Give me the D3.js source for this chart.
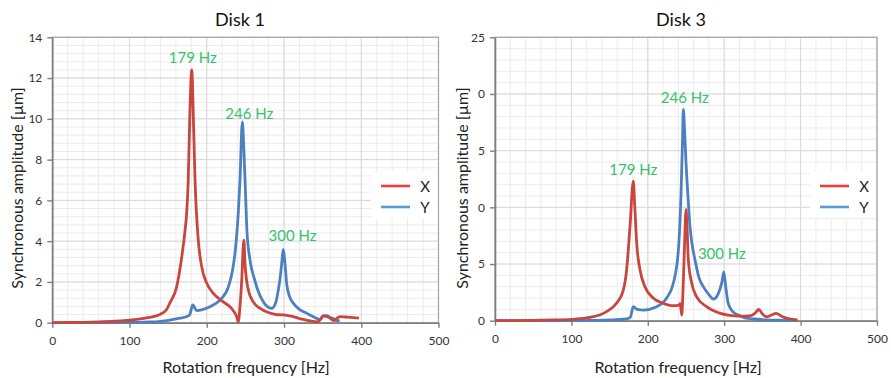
<!DOCTYPE html>
<html><head><meta charset="utf-8">
<script src="https://cdn.jsdelivr.net/npm/d3@7"></script>
<style>
body{margin:0;background:#fff;}
svg{display:block;font-family:Lato,"Open Sans",sans-serif;}
</style></head>
<body>
<svg id="c" width="891" height="378"></svg>
<script>
// ---------- data ----------
const xTicks = [0, 100, 200, 300, 400, 500];

// Disk 1
const d1YTicks = [0, 2, 4, 6, 8, 10, 12, 14];
const d1YTickLabels = ["0", "2", "4", "6", "8", "10", "12", "14"];
const d1XFreq = [0,20,40,60,80,100,120,140,148,152,161,167.5,171.8,174,176,178,180.5,183,184.8,189,193.4,200,208.5,221,232,238.7,240.8,243,245,248,249.5,253.8,260,269,280,290,299,305,312,320,330,340,343,347,351,356,360,364,368,372,380,390,397];
const d1XVal  = [0,0.01,0.02,0.04,0.07,0.12,0.22,0.42,0.65,0.95,1.76,3.2,4.5,5.4,7.0,10.1,12.4,9.5,7.0,4.05,2.75,1.93,1.44,1.03,0.7,0.3,0.05,0.8,1.9,4.05,2.9,1.6,1.03,0.7,0.5,0.4,0.38,0.35,0.3,0.2,0.12,0.05,0.04,0.15,0.33,0.3,0.22,0.1,0.2,0.3,0.28,0.25,0.22];
const d1YFreq = [0,50,100,120,140,152,165,174,178,181.8,187,195,204,217,228,233,236.5,240.8,243,246,248,250,252,256,262,266,272,278,284,289,292.6,295,297,299,301,303.5,307,312,320,329,342,346,351,356,360,364,368,372];
const d1YVal  = [0,0,0.01,0.03,0.07,0.13,0.22,0.3,0.4,0.87,0.59,0.65,0.78,1.11,1.76,2.5,3.4,5.4,7.0,9.85,8.5,6.5,4.5,3.07,2.1,1.6,1.1,0.8,0.7,0.95,1.6,2.2,2.9,3.6,3.0,1.9,1.3,0.96,0.65,0.47,0.22,0.15,0.35,0.33,0.25,0.2,0.1,0.1];

// Disk 3
const d3YTicks = [0, 5, 10, 15, 20, 25];
const d3YTickLabels = ["0", "5", "0", "5", "0", "25"];
const d3XFreq = [0,20,40,60,80,100,120,137,146,159,168,172.3,176.7,181,183,185.5,189.8,196.3,207,220,233,240,242.5,244.4,246,248,250,251.5,253,257.5,264,277,284,295,305,320,335,341,345,350,355,362,368,375,383,390,396];
const d3XVal  = [0,0.01,0.02,0.04,0.07,0.12,0.25,0.5,0.8,1.54,2.7,4.5,8.3,12.3,10,6.8,4.5,3.0,2.0,1.54,1.32,1.35,1.5,0.5,2.5,6.5,9.8,8,5.4,3.3,2.1,1.24,0.95,0.65,0.5,0.4,0.45,0.7,1.0,0.6,0.35,0.5,0.65,0.4,0.2,0.12,0.08];
const d3YFreq = [0,50,100,130,150,171,177,181,186,194,211.6,224.7,233.4,240,243.5,245.5,246.5,248,250,253,255.2,258.5,261.8,267,272.6,280,286,290,293,297,299.5,302,305,310,314,320,327,340,350,370,395];
const d3YVal  = [0,0,0.01,0.03,0.06,0.15,0.3,1.24,1.0,0.94,1.24,2.0,3.3,6.2,11.2,16,18.65,17,14,10.5,8.3,6.5,5.36,3.8,3.0,2.3,1.9,2.1,2.5,3.4,4.3,3,1.6,0.9,0.65,0.45,0.25,0.15,0.1,0.05,0.02];

const seriesNames = ["X", "Y"];
const peakLabels = ["179 Hz", "246 Hz", "300 Hz"];

// ---------- drawing ----------
const svg = d3.select("#c");
const RED = "#c9463f", BLUE = "#4d80c0", GREEN = "#35c26a";

function panel(cfg) {
  const g = svg.append("g");
  const x = d3.scaleLinear().domain([0, 500]).range([cfg.x0, cfg.x1]);
  const y = d3.scaleLinear().domain([0, cfg.yMax]).range([cfg.y0, cfg.y1]);

  // minor grid
  const xMinor = d3.range(0, 501, 20);
  const yMinor = d3.range(0, cfg.yMax + 1e-9, cfg.yMinor);
  g.append("g").selectAll("line").data(xMinor).join("line")
    .attr("x1", d => x(d)).attr("x2", d => x(d)).attr("y1", y(0)).attr("y2", y(cfg.yMax))
    .attr("stroke", "#ececec").attr("stroke-width", 1);
  g.append("g").selectAll("line").data(yMinor).join("line")
    .attr("y1", d => y(d)).attr("y2", d => y(d)).attr("x1", x(0)).attr("x2", x(500))
    .attr("stroke", "#ececec").attr("stroke-width", 1);
  // major grid
  g.append("g").selectAll("line").data(xTicks).join("line")
    .attr("x1", d => x(d)).attr("x2", d => x(d)).attr("y1", y(0)).attr("y2", y(cfg.yMax))
    .attr("stroke", "#d9d9d9").attr("stroke-width", 1);
  g.append("g").selectAll("line").data(cfg.yTicks).join("line")
    .attr("y1", d => y(d)).attr("y2", d => y(d)).attr("x1", x(0)).attr("x2", x(500))
    .attr("stroke", "#d9d9d9").attr("stroke-width", 1);

  // legend background
  g.append("rect").attr("x", cfg.legX - 10).attr("y", cfg.legY - 14)
    .attr("width", x(500) - cfg.legX + 9).attr("height", 46).attr("fill", "#fff");

  // frame
  g.append("rect").attr("x", x(0)).attr("y", y(cfg.yMax)).attr("width", x(500) - x(0))
    .attr("height", y(0) - y(cfg.yMax)).attr("fill", "none").attr("stroke", "#a6a6a6").attr("stroke-width", 1.2);

  // axes
  const ax = g.append("g").attr("transform", `translate(0,${y(0)})`)
    .call(d3.axisBottom(x).tickValues(xTicks).tickSize(5).tickPadding(9).tickSizeOuter(0));
  ax.select(".domain").attr("stroke", "#7f7f7f").attr("stroke-width", 1.6);
  ax.selectAll(".tick line").attr("stroke", "#7f7f7f").attr("stroke-width", 1.4);
  ax.selectAll("text").attr("font-size", 12).attr("fill", "#333").attr("font-family", "Lato,sans-serif");

  const ay = g.append("g").attr("transform", `translate(${x(0)},0)`)
    .call(d3.axisLeft(y).tickValues(cfg.yTicks).tickFormat((d, i) => cfg.yTickLabels[i]).tickSize(5).tickPadding(5).tickSizeOuter(0));
  ay.select(".domain").attr("stroke", "#7f7f7f").attr("stroke-width", 1.6);
  ay.selectAll(".tick line").attr("stroke", "#7f7f7f").attr("stroke-width", 1.4);
  ay.selectAll("text").attr("font-size", 12).attr("fill", "#333").attr("font-family", "Lato,sans-serif");

  // lines (blue under, red on top)
  const line = d3.line().x(d => x(d[0])).y(d => y(d[1])).curve(d3.curveMonotoneX);
  const sX = cfg.xFreq.map((f, i) => [f, cfg.xVal[i]]);
  const sY = cfg.yFreq.map((f, i) => [f, cfg.yVal[i]]);
  [[sY, BLUE], [sX, RED]].forEach(([data, col]) => {
    g.append("path").datum(data).attr("d", line).attr("fill", "none")
      .attr("stroke", col).attr("stroke-width", 2.8).attr("stroke-linejoin", "round");
  });

  // annotations
  cfg.ann.forEach((a, i) => {
    g.append("text").attr("x", x(a[0])).attr("y", y(a[1])).attr("text-anchor", "middle")
      .attr("dominant-baseline", "central").attr("font-size", 15).attr("fill", GREEN)
      .text(peakLabels[i]);
  });

  // legend
  [RED, BLUE].forEach((col, i) => {
    const ly = cfg.legY + i * 21;
    g.append("line").attr("x1", cfg.legX).attr("x2", cfg.legX + 29).attr("y1", ly).attr("y2", ly)
      .attr("stroke", col === RED ? "#e8403a" : "#5f98d6").attr("stroke-width", 2.6);
    g.append("text").attr("x", cfg.legX + 44).attr("y", ly).attr("text-anchor", "middle")
      .attr("dominant-baseline", "central").attr("font-size", 15).attr("fill", "#222")
      .text(seriesNames[i]);
  });

  // titles
  g.append("text").attr("x", cfg.titleX).attr("y", 19).attr("text-anchor", "middle")
    .attr("dominant-baseline", "central").attr("font-size", 18).attr("fill", "#111").text(cfg.title);
  g.append("text").attr("x", cfg.xLabX).attr("y", 366).attr("text-anchor", "middle")
    .attr("dominant-baseline", "central").attr("font-size", 16).attr("fill", "#222")
    .text("Rotation frequency [Hz]");
  g.append("text").attr("transform", `translate(${cfg.yLabX},${cfg.yLabY}) rotate(-90)`)
    .attr("text-anchor", "middle").attr("dominant-baseline", "central")
    .attr("font-size", 16).attr("fill", "#222").text("Synchronous amplitude [µm]");
}

panel({
  x0: 52.3, x1: 438.5, y0: 322.7, y1: 37.3, yMax: 14, yMinor: 0.4,
  yTicks: d1YTicks, yTickLabels: d1YTickLabels,
  xFreq: d1XFreq, xVal: d1XVal, yFreq: d1YFreq, yVal: d1YVal,
  ann: [[182, 13.05], [255, 10.3], [311, 4.3]],
  legX: 381, legY: 186, title: "Disk 1", titleX: 240, xLabX: 246, yLabX: 16, yLabY: 188
});
panel({
  x0: 495, x1: 877, y0: 320.7, y1: 37.3, yMax: 25, yMinor: 1,
  yTicks: d3YTicks, yTickLabels: d3YTickLabels,
  xFreq: d3XFreq, xVal: d3XVal, yFreq: d3YFreq, yVal: d3YVal,
  ann: [[181, 13.35], [248.5, 19.75], [297, 5.95]],
  legX: 820, legY: 186, title: "Disk 3", titleX: 681, xLabX: 678, yLabX: 461, yLabY: 188
});
</script>
</body></html>
